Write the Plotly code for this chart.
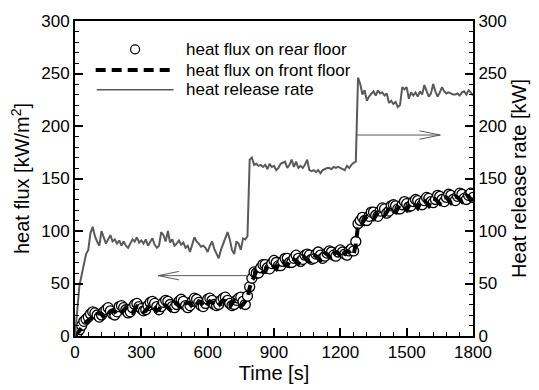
import plotly.graph_objects as go

# ---------------- data ----------------
time_s = list(range(0, 1801, 10))

flux_rear = [
    0, 3, 6, 10, 14, 16, 18, 21, 23, 22,
    20, 18, 20, 23, 25, 27, 24, 21, 20, 23,
    28, 29, 27, 25, 22, 23, 27, 30, 31, 28,
    26, 24, 25, 29, 32, 33, 31, 28, 25, 28,
    32, 34, 33, 30, 28, 27, 30, 33, 35, 33,
    29, 27, 29, 33, 36, 35, 32, 29, 28, 31,
    35, 36, 34, 30, 29, 30, 34, 36, 37, 34,
    31, 29, 30, 34, 36, 37, 33, 30, 38, 47,
    55, 61, 60, 60, 65, 68, 68, 65, 64, 69,
    72, 70, 67, 67, 71, 74, 74, 70, 70, 74,
    77, 74, 71, 73, 77, 78, 77, 73, 74, 78,
    80, 77, 74, 76, 79, 81, 80, 77, 76, 80,
    82, 80, 78, 77, 81, 83, 81, 90, 107, 110,
    113, 110, 110, 114, 118, 118, 115, 114, 119, 122,
    121, 117, 119, 124, 125, 124, 121, 121, 125, 128,
    126, 123, 124, 128, 130, 129, 126, 125, 129, 132,
    131, 128, 127, 130, 134, 133, 130, 128, 132, 135,
    134, 130, 129, 133, 136, 135, 131, 130, 134, 136,
    132,
]

flux_front = [
    0, 2, 5, 8, 11, 13, 15, 17, 18, 18,
    21, 22, 21, 18, 17, 20, 23, 24, 23, 20,
    20, 22, 25, 27, 25, 22, 22, 25, 28, 27,
    25, 23, 24, 27, 30, 29, 26, 24, 25, 30,
    31, 29, 26, 25, 29, 32, 31, 28, 26, 28,
    31, 32, 31, 28, 27, 30, 33, 32, 29, 27,
    30, 33, 32, 29, 28, 29, 32, 34, 33, 29,
    28, 31, 34, 33, 30, 28, 30, 33, 36, 46,
    53, 56, 62, 64, 62, 61, 61, 66, 68, 68,
    66, 64, 68, 71, 71, 68, 67, 70, 74, 73,
    71, 69, 72, 76, 75, 72, 71, 74, 77, 76,
    74, 72, 75, 79, 78, 75, 73, 77, 80, 79,
    76, 74, 78, 81, 80, 77, 77, 88, 105, 108,
    108, 112, 114, 113, 111, 111, 115, 118, 118, 116,
    115, 118, 122, 122, 119, 118, 121, 125, 124, 122,
    120, 124, 127, 127, 124, 122, 126, 129, 129, 126,
    124, 128, 131, 130, 128, 126, 129, 132, 132, 129,
    127, 130, 133, 132, 130, 128, 131, 134, 133, 130,
    130,
]

hrr = [
    0, 25, 48, 58, 68, 78, 82, 98, 104, 95,
    90, 86, 100, 94, 88, 92, 96, 90, 92, 88,
    91, 86, 90, 86, 84, 88, 92, 90, 94, 89,
    91, 88, 92, 86, 90, 93, 87, 84, 86, 99,
    96, 90, 100, 89, 92, 86, 88, 91, 87, 89,
    84, 86, 80, 88, 94, 90, 88, 85, 86, 84,
    80, 86, 90, 83, 78, 74, 82, 88, 94, 99,
    92, 82, 78, 90, 88, 82, 93, 92, 95, 168,
    170, 163, 164, 162, 163, 161, 163, 159, 164, 161,
    162, 158, 160, 164, 165, 166, 160, 163, 168, 161,
    166, 160, 162, 160, 163, 168, 158, 157, 158, 156,
    158, 155, 158, 159, 160, 160, 159, 161, 160, 161,
    160, 159, 158, 162, 160, 163, 165, 166, 246, 240,
    230, 234, 224, 228, 231, 233, 229, 234, 231, 232,
    229, 231, 222, 224, 221, 223, 218, 220, 237, 235,
    237, 226, 232, 229, 232, 228, 233, 230, 239, 233,
    228, 231, 240, 233, 228, 232, 237, 233, 231, 232,
    231, 230, 230, 231, 229, 232, 233, 230, 234, 232,
    229,
]

x_ticks = [0, 300, 600, 900, 1200, 1500, 1800]
y_ticks = [0, 50, 100, 150, 200, 250, 300]

legend_labels = ["heat flux on rear floor", "heat flux on front floor", "heat release rate"]

# ---------------- figure ----------------
FONT = "Liberation Sans, Arial, sans-serif"
GRAY = "#5a5a5a"

fig = go.Figure()

fig.add_trace(go.Scatter(
    x=time_s, y=hrr, mode="lines", name=legend_labels[2],
    line=dict(color=GRAY, width=2), yaxis="y2", showlegend=False,
))
fig.add_trace(go.Scatter(
    x=time_s, y=flux_rear, mode="markers", name=legend_labels[0],
    marker=dict(symbol="circle", size=10, color="white",
                line=dict(color="black", width=1.3)),
    showlegend=False,
))
fig.add_trace(go.Scatter(
    x=time_s, y=flux_front, mode="lines", name=legend_labels[1],
    line=dict(color="black", width=4, dash="10px,6px"), showlegend=False,
))

# arrows (open heads)
shapes = []
arrow_style = dict(color=GRAY, width=1)
shapes.append(dict(type="line", xref="x", yref="y", x0=787, y0=57.5, x1=376, y1=57.5, line=arrow_style))
shapes.append(dict(type="line", xref="x", yref="y", x0=376, y0=57.5, x1=470, y1=61.5, line=arrow_style))
shapes.append(dict(type="line", xref="x", yref="y", x0=376, y0=57.5, x1=470, y1=53.5, line=arrow_style))
shapes.append(dict(type="line", xref="x", yref="y", x0=1270, y0=191.4, x1=1652, y1=191.4, line=arrow_style))
shapes.append(dict(type="line", xref="x", yref="y", x0=1652, y0=191.4, x1=1558, y1=195.4, line=arrow_style))
shapes.append(dict(type="line", xref="x", yref="y", x0=1652, y0=191.4, x1=1558, y1=187.4, line=arrow_style))

# manual legend
L, W, T, H = 75, 404, 15, 334
def px(xp):
    return (xp - L) / W
def py(yp):
    return (T + H - yp) / H

row_y = [45, 67, 88]
shapes.append(dict(type="circle", xref="paper", yref="paper",
                   xsizemode="pixel", ysizemode="pixel",
                   xanchor=px(136), yanchor=py(row_y[0]),
                   x0=-4.5, x1=4.5, y0=-4.5, y1=4.5,
                   line=dict(color="black", width=1.2), fillcolor="white"))
shapes.append(dict(type="line", xref="paper", yref="paper",
                   x0=px(96), x1=px(176), y0=py(row_y[1]), y1=py(row_y[1]),
                   line=dict(color="black", width=4, dash="10px,6px")))
shapes.append(dict(type="line", xref="paper", yref="paper",
                   x0=px(97), x1=px(175), y0=py(row_y[2]), y1=py(row_y[2]),
                   line=dict(color=GRAY, width=1.5)))

annotations = []
for lab, yy in zip(legend_labels, row_y):
    annotations.append(dict(text=lab, xref="paper", yref="paper", x=px(186), y=py(yy),
                            xanchor="left", yanchor="middle", showarrow=False,
                            font=dict(family=FONT, size=17, color="black")))

axis_common = dict(
    showgrid=False, zeroline=False, showline=True, linecolor="black", linewidth=2,
    ticks="inside", ticklen=8, tickwidth=1.5, tickcolor="black",
    tickfont=dict(family=FONT, size=17, color="black"),
)

fig.update_layout(
    width=539, height=390,
    margin=dict(l=L, r=60, t=T, b=390 - T - H),
    paper_bgcolor="white", plot_bgcolor="white",
    font=dict(family=FONT, color="black"),
    shapes=shapes, annotations=annotations,
    xaxis=dict(
        range=[0, 1800], tickvals=x_ticks, mirror=True,
        minor=dict(dtick=60, ticks="inside", ticklen=4, tickcolor="black", tickwidth=1),
        title=dict(text="Time [s]", font=dict(family=FONT, size=20), standoff=2),
        **axis_common,
    ),
    yaxis=dict(
        range=[0, 300], tickvals=y_ticks,
        minor=dict(dtick=10, ticks="inside", ticklen=4, tickcolor="black", tickwidth=1),
        title=dict(text="heat flux [kW/m<sup>2</sup>]", font=dict(family=FONT, size=20), standoff=6),
        **axis_common,
    ),
    yaxis2=dict(
        range=[0, 300], tickvals=y_ticks, overlaying="y", side="right",
        minor=dict(dtick=10, ticks="inside", ticklen=4, tickcolor="black", tickwidth=1),
        title=dict(text="Heat release rate [kW]", font=dict(family=FONT, size=20), standoff=6),
        **axis_common,
    ),
    showlegend=False,
)

fig.write_html("out.html")
